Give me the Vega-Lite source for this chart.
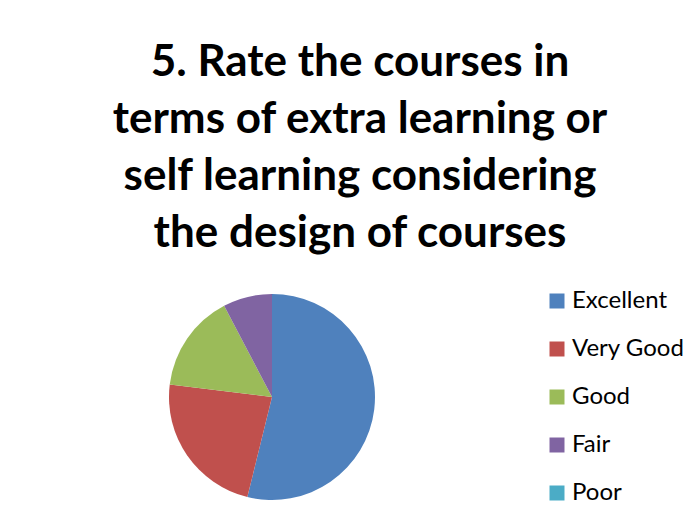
{
  "$schema": "https://vega.github.io/schema/vega-lite/v6.json",
  "autosize": "none",
  "padding": {"top": 270, "left": 0, "right": 152, "bottom": 3},
  "width": 544,
  "height": 254,
  "background": "white",
  "title": {
    "text": ["5. Rate the courses in", "terms of extra learning or", "self learning considering", "the design of courses"],
    "font": "Lato",
    "fontWeight": "bold",
    "fontSize": 44,
    "lineHeight": 57,
    "color": "#000000",
    "anchor": "middle",
    "dx": 88,
    "offset": 14
  },
  "data": {
    "values": [
      {"rating": "Excellent", "count": 7},
      {"rating": "Very Good", "count": 3},
      {"rating": "Good", "count": 2},
      {"rating": "Fair", "count": 1},
      {"rating": "Poor", "count": 0}
    ]
  },
  "mark": {"type": "arc", "radius": 103},
  "encoding": {
    "theta": {"field": "count", "type": "quantitative", "stack": true},
    "order": {"field": "count", "type": "quantitative", "sort": "descending"},
    "color": {
      "field": "rating",
      "type": "nominal",
      "sort": ["Excellent", "Very Good", "Good", "Fair", "Poor"],
      "scale": {
        "domain": ["Excellent", "Very Good", "Good", "Fair", "Poor"],
        "range": ["#4F81BD", "#C0504D", "#9BBB59", "#8064A2", "#4BACC6"]
      },
      "legend": {
        "title": null,
        "orient": "none",
        "legendX": 545,
        "legendY": 19,
        "symbolType": "square",
        "symbolSize": 225,
        "symbolStrokeWidth": 0,
        "labelFont": "Lato",
        "labelFontSize": 24,
        "labelColor": "#000000",
        "labelOffset": 3,
        "rowPadding": 24,
        "padding": 0,
        "labelLimit": 200
      }
    }
  },
  "config": {"view": {"stroke": null}}
}
